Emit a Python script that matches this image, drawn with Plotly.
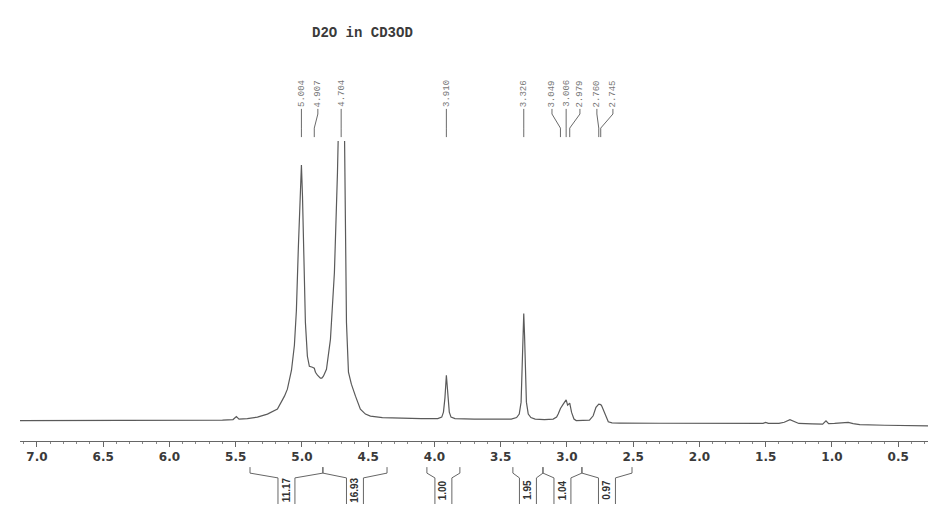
import plotly.graph_objects as go

# 1H NMR trace: chemical shift (ppm) and relative intensity (arbitrary units)
shift_ppm = [
    7.128, 6.80, 6.50, 6.20, 5.90, 5.60, 5.52, 5.495, 5.475, 5.412,
    5.336, 5.261, 5.185, 5.132, 5.110, 5.079, 5.057, 5.042, 5.027, 5.015,
    5.004, 4.996, 4.989, 4.974, 4.959, 4.944, 4.921, 4.907, 4.898, 4.883,
    4.861, 4.850, 4.838, 4.815, 4.785, 4.755, 4.732, 4.725, 4.704, 4.679,
    4.672, 4.664, 4.649, 4.627, 4.596, 4.559, 4.521, 4.483, 4.393, 4.280,
    4.10, 3.975, 3.945, 3.932, 3.921, 3.910, 3.899, 3.888, 3.875, 3.845,
    3.70, 3.55, 3.42, 3.38, 3.36, 3.346, 3.337, 3.332, 3.326, 3.320,
    3.315, 3.306, 3.292, 3.272, 3.24, 3.17, 3.104, 3.078, 3.066, 3.049,
    3.028, 3.006, 2.995, 2.979, 2.965, 2.947, 2.93, 2.87, 2.83, 2.802,
    2.781, 2.760, 2.745, 2.738, 2.713, 2.688, 2.66, 2.60, 2.30, 2.00,
    1.70, 1.52, 1.50, 1.48, 1.40, 1.36, 1.317, 1.29, 1.25, 1.15,
    1.07, 1.045, 1.025, 0.98, 0.94, 0.877, 0.84, 0.79, 0.60, 0.40,
    0.275,
]
intensity = [
    -0.5, -0.5, -0.3, 0.0, 0.0, 0.0, 0.5, 3.5, 1.0, 1.5,
    3.0, 6.0, 11.0, 24.0, 31.0, 50.0, 75.0, 110.0, 174.0, 225.0,
    256.0, 225.0, 174.0, 98.0, 64.0, 54.0, 53.0, 52.0, 48.0, 45.0,
    42.0, 42.0, 44.0, 51.0, 81.0, 148.0, 248.0, 290.0, 420.0, 290.0,
    200.0, 98.0, 48.0, 36.0, 24.0, 11.0, 6.0, 4.0, 2.5, 2.0,
    1.5, 1.5, 3.0, 8.0, 22.0, 45.0, 22.0, 8.0, 3.0, 1.5,
    1.0, 1.0, 1.0, 2.5, 6.0, 18.0, 50.0, 85.0, 107.0, 85.0,
    50.0, 18.0, 6.0, 2.5, 1.0, 0.5, 1.0, 3.0, 6.0, 11.7,
    16.0, 20.3, 15.0, 17.0, 7.7, 1.0, -0.5, -0.5, 0.0, 4.3,
    12.7, 16.0, 15.5, 14.3, 6.0, -1.7, -2.8, -3.0, -3.2, -3.4,
    -3.5, -3.3, -2.3, -3.3, -3.3, -2.2, 0.3, -1.3, -3.4, -3.8,
    -4.0, -0.7, -3.6, -3.4, -3.0, -2.3, -3.5, -4.6, -5.2, -5.6,
    -5.8,
]

# Peak picking labels
peak_shifts = [5.004, 4.907, 4.704, 3.910, 3.326, 3.049, 3.006, 2.979, 2.760, 2.745]

# Integration regions (ppm) and integral values
integral_from = [5.392, 4.842, 4.057, 3.408, 3.181, 2.887]
integral_to = [4.842, 4.358, 3.808, 3.181, 2.887, 2.509]
integral_values = [11.17, 16.93, 1.00, 1.95, 1.04, 0.97]

# Tick labels on the ppm axis
tick_vals = [7.0, 6.5, 6.0, 5.5, 5.0, 4.5, 4.0, 3.5, 3.0, 2.5, 2.0, 1.5, 1.0, 0.5]
tick_text = ["7.0", "6.5", "6.0", "5.5", "5.0", "4.5", "4.0", "3.5", "3.0", "2.5", "2.0", "1.5", "1.0", "0.5"]

# Where each peak label sits along the axis (spread apart where crowded)
label_anchor_ppm = [5.004, 4.880, 4.704, 3.910, 3.326, 3.113, 3.006, 2.902, 2.774, 2.653]

LINE = "#5a5a5a"

fig = go.Figure()
fig.add_trace(go.Scatter(
    x=shift_ppm, y=intensity, mode="lines",
    line=dict(color=LINE, width=1.2),
    hoverinfo="skip", showlegend=False,
))

shapes = []
annotations = []

# Peak label leader lines (paper y above the plotting area)
y_top, y_b1, y_b2, y_bot = 1.107, 1.090, 1.043, 1.013
for shift, anchor in zip(peak_shifts, label_anchor_ppm):
    path = (f"M {anchor},{y_top} L {anchor},{y_b1} "
            f"L {shift},{y_b2} L {shift},{y_bot}")
    shapes.append(dict(type="path", xref="x", yref="paper", path=path,
                       line=dict(color="#6a6a6a", width=1)))
    annotations.append(dict(
        x=anchor, y=1.158, xref="x", yref="paper",
        text=f"{shift:.3f}", showarrow=False, textangle=-90,
        xanchor="center", yanchor="middle",
        font=dict(family="Liberation Mono, monospace", size=9, color="#777777"),
    ))

# Integration brackets below the axis
i_tick_top, i_tick_bot, i_bar_top, i_bar_bot = -0.087, -0.107, -0.123, -0.210
half_gap = 0.064
for a, b, val in zip(integral_from, integral_to, integral_values):
    mid = (a + b) / 2
    left, right = mid + half_gap, mid - half_gap
    path = (f"M {a},{i_tick_top} L {a},{i_tick_bot} L {left},{i_bar_top} L {left},{i_bar_bot} "
            f"M {right},{i_bar_bot} L {right},{i_bar_top} L {b},{i_tick_bot} L {b},{i_tick_top}")
    shapes.append(dict(type="path", xref="x", yref="paper", path=path,
                       line=dict(color="#666666", width=1)))
    annotations.append(dict(
        x=mid, y=-0.163, xref="x", yref="paper",
        text=f"<b>{val:.2f}</b>", showarrow=False, textangle=-90,
        xanchor="center", yanchor="middle",
        font=dict(family="Liberation Sans Narrow, Liberation Sans, Arial, sans-serif", size=10, color="#333333"),
    ))

# Sample description
annotations.append(dict(
    x=0.3767, y=1.36, xref="paper", yref="paper",
    text="<b>D2O in CD3OD</b>", showarrow=False,
    xanchor="center", yanchor="middle",
    font=dict(family="Liberation Mono, monospace", size=14, color="#3a3a3a"),
))

fig.update_layout(
    width=928, height=508,
    margin=dict(l=20, r=0, t=141, b=67),
    paper_bgcolor="white", plot_bgcolor="white",
    shapes=shapes, annotations=annotations,
    xaxis=dict(
        range=[7.128, 0.275],
        showline=True, linecolor="#666666", linewidth=1,
        ticks="outside", ticklen=5, tickwidth=1, tickcolor="#666666",
        tickvals=tick_vals, ticktext=tick_text,
        tickfont=dict(family="DejaVu Sans, sans-serif", size=12, color="#3a3a3a", weight="bold"),
        minor=dict(ticks="outside", ticklen=2, dtick=0.1, tick0=0, tickcolor="#888888"),
        showgrid=False, zeroline=False, fixedrange=True,
    ),
    yaxis=dict(range=[-21, 280], visible=False, fixedrange=True),
    showlegend=False,
)

fig.write_html("out.html")
